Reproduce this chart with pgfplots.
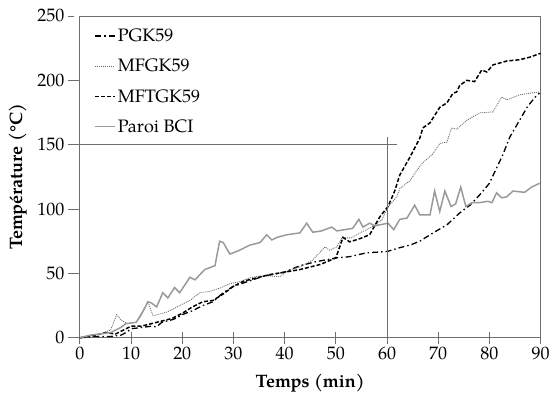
\documentclass[border=0pt]{standalone}
\usepackage{pgfplots}
\pgfplotsset{compat=1.18}
\usepackage{fontspec}
\setmainfont{TeX Gyre Pagella}
\definecolor{axisgray}{HTML}{6E6E6E}
\definecolor{walgray}{HTML}{9A9A9A}
\begin{document}
\begin{tikzpicture}[font=\fontsize{18}{21}\selectfont]
\begin{axis}[
  scale only axis, width=461pt, height=322pt,
  xmin=0, xmax=90, ymin=0, ymax=250,
  xtick={0,10,...,90}, ytick={0,50,...,250},
  /pgf/number format/assume math mode=true,
  axis line style={axisgray, line width=0.9pt},
  tick style={axisgray, line width=0.9pt},
  xtick pos=bottom, ytick pos=left,
  major tick length=12pt, xtick align=center, ytick align=outside,
  y tick style={shorten >=6pt},
  xlabel={\bfseries Temps (min)}, ylabel={\bfseries Température (°C)},
  xlabel style={at={(axis description cs:0.5,-0.14)}, anchor=center},
  ylabel style={at={(axis description cs:-0.135,0.5)}, anchor=center},
  legend style={draw=none, fill=none, at={(axis description cs:0.031,0.967)}, anchor=north west,
    row sep=12pt, inner sep=0pt},
  legend cell align=left,
  legend image code/.code={\draw[#1] (0pt,0pt) -- (20pt,0pt);},
  clip=false,
]
% PGK59
\addplot[black, line width=1.3pt, dash pattern=on 6pt off 3pt on 1.5pt off 3pt] coordinates {
(0,0)(3,1)(6,1)(8,2)(9,4)(10,7)(12,8)(14,9)(15,8.5)(16,12)(18,14)(19,15.5)(20,18)(22,21)(24,25)
(26,28)(28,35)(30,40)(33,44)(36,48)(40,51)(43,56)(46,59)(50,62)(52.7,63)(56,66)(60,67)(62.5,70)
(64.5,72)(66.4,75)(69,81.5)(71.7,87.7)(74.2,97)(76.2,103)(78.1,111)(80,120)(82.6,142)(84,156)
(85.9,169)(87.5,180)(89.3,188.6)(89.8,190)};
% MFGK59
\addplot[black!60, line width=0.8pt, dash pattern=on 1pt off 1pt] coordinates {
(0,0)(2,2)(4,3)(6,6)(7.2,18)(8,14)(9.2,11)(11,12)(13.3,28)(14.3,17)(17,20)(19,24)(21.5,29)
(23.4,35)(25.4,36)(27.3,38.5)(29.3,42)(31.2,43.5)(33.2,46.6)(35.2,48)(37.1,48)(39,47.4)(41,52.8)
(43,55)(45.5,60.5)(47.9,70.6)(48.8,68)(50.2,70.6)(51.2,77.6)(53,77.6)(55,82)(57,86)(59,91.6)
(60.2,101.7)(61.9,109.5)(62.5,116)(64.5,122)(65.8,130)(67,136)(69,143)(70.3,151)(71.7,152)
(72.6,163)(73.6,162)(75.6,169)(78.1,174.7)(80.7,175.5)(82.4,187)(83.4,184.8)(85.9,188.7)
(87.9,190)(89.8,191)};
% MFTGK59
\addplot[black, line width=1.5pt, dash pattern=on 4pt off 2pt] coordinates {
(0,0)(3,2)(5,4)(7,3)(9,7)(10,9)(12,9)(14,11)(16,13)(18,15)(20,19)(22,24)(24,28)(26,29)(28,34)
(30,40)(32,44)(34,46)(37,49)(40,51)(43,53)(45,55)(47,57)(50,62)(51.4,78)(52.7,74.5)(54.7,77)
(56.6,80)(58.6,94)(60.2,102)(61.5,114)(62.5,126.5)(64.5,140.5)(66.4,155)(67,163)(68.4,167)
(70.3,179)(71.7,182.5)(72.9,190)(73.6,191)(74.2,196)(75.6,200)(77.1,199)(78.5,208)(79.5,206.5)
(80.7,212)(83.4,215)(85.9,216)(87.9,218)(90,221)};
% Paroi BCI
\addplot[walgray, line width=1.5pt] coordinates {
(0,0)(2,2)(4,3)(6,4)(8,8)(9,11)(11,12)(12,18)(13.3,28)(14,27)(15,24)(16.2,35)(17.2,31)(18.5,39)
(19.5,35)(21.5,47)(22.5,45)(24.4,53)(26.4,56)(27.3,75)(28,74)(29.3,65)(31.2,68)(33.2,72)
(35.2,74)(36.5,80)(37.5,76)(38.5,78)(40.4,80)(43,81.5)(44.3,89)(45.5,82)(47.2,83)(49.2,86)
(50.2,83)(53.3,85)(54.5,92)(55.3,86)(56.6,89)(57.6,87)(60.2,89)(61.3,84)(62.5,92)(63.9,93)
(65.4,103)(66.4,95.5)(68.4,95.5)(69.3,114)(70.3,98)(71.3,114)(72.5,102)(73.4,104)(74.4,117)
(75.4,102)(76.6,105)(78.1,105)(79.7,106)(80.5,105)(81.4,112.6)(82.4,108.7)(83.4,109.5)
(84.6,114)(85.9,113.4)(86.9,113)(88.2,117)(89.8,120)};
% reference lines
\addplot[axisgray, line width=1pt, forget plot] coordinates {(0,150)(62,150)};
\addplot[axisgray, line width=1pt, forget plot] coordinates {(60,0)(60,156)};
\legend{PGK59, MFGK59, MFTGK59, Paroi BCI}
\path (axis cs:-15.6,-51.2) rectangle (axis cs:93.4,262.4);
\end{axis}
\end{tikzpicture}
\end{document}
